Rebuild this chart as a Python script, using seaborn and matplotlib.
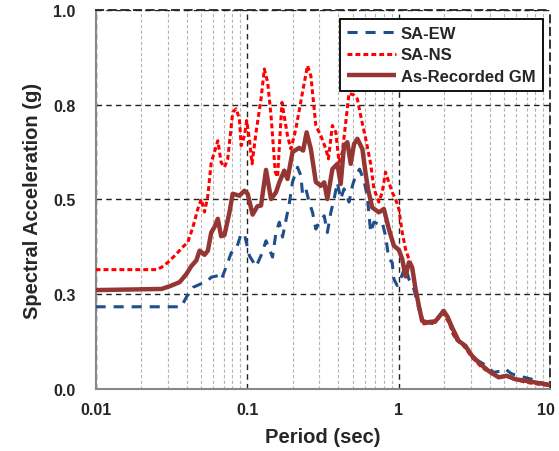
import numpy as np
import pandas as pd
import matplotlib
matplotlib.use("Agg")
import matplotlib.pyplot as plt
import matplotlib.transforms as mtransforms
import seaborn as sns

# ---- data ----
period_gm = [0.01, 0.0272, 0.0308, 0.0359, 0.0397, 0.0428, 0.0462, 0.0486, 0.0524, 0.0551,
             0.0580, 0.0609, 0.0641, 0.0674, 0.0709, 0.0765, 0.0804, 0.0890, 0.0960, 0.1009,
             0.1088, 0.1169, 0.1236, 0.1334, 0.1439, 0.1552, 0.1632, 0.1759, 0.1849, 0.1995,
             0.2208, 0.2344, 0.2472, 0.2636, 0.2844, 0.3069, 0.3228, 0.3388, 0.3657, 0.3946,
             0.4150, 0.4365, 0.4592, 0.4831, 0.5082, 0.5346, 0.5768, 0.6067, 0.6281, 0.6699,
             0.7413, 0.8000, 0.8630, 0.931, 1.004, 1.057, 1.112, 1.169, 1.228, 1.294,
             1.361, 1.429, 1.542, 1.751, 1.986, 2.109, 2.253, 2.494, 2.761, 3.050,
             3.462, 3.927, 4.571, 5.176, 5.888, 6.853, 8.38, 10.0]
sa_gm = [0.261, 0.264, 0.271, 0.282, 0.303, 0.324, 0.339, 0.365, 0.354, 0.365,
         0.413, 0.427, 0.449, 0.403, 0.406, 0.466, 0.515, 0.510, 0.523, 0.515,
         0.460, 0.482, 0.484, 0.578, 0.501, 0.519, 0.545, 0.576, 0.554, 0.625,
         0.636, 0.629, 0.677, 0.633, 0.546, 0.536, 0.545, 0.501, 0.580, 0.594,
         0.541, 0.642, 0.651, 0.594, 0.646, 0.660, 0.633, 0.567, 0.528, 0.479,
         0.466, 0.475, 0.422, 0.378, 0.367, 0.343, 0.297, 0.334, 0.322, 0.264,
         0.220, 0.180, 0.176, 0.179, 0.206, 0.190, 0.163, 0.127, 0.114, 0.088,
         0.066, 0.048, 0.031, 0.035, 0.026, 0.022, 0.016, 0.011]

period_ns = [0.01, 0.0252, 0.0272, 0.0300, 0.0341, 0.0377, 0.0406, 0.0439, 0.0473, 0.0498,
             0.0524, 0.0551, 0.0580, 0.0609, 0.0641, 0.0674, 0.0709, 0.0745, 0.0804, 0.0847,
             0.0890, 0.0914, 0.0960, 0.0994, 0.1035, 0.1079, 0.1146, 0.1236, 0.1300, 0.1367,
             0.1439, 0.1535, 0.1589, 0.1699, 0.1849, 0.1946, 0.2099, 0.2323, 0.2506, 0.2636,
             0.2844, 0.3069, 0.3311, 0.3443, 0.3657, 0.3855, 0.4046, 0.4256, 0.4710, 0.508,
             0.5346, 0.5623, 0.6067, 0.6546, 0.6877, 0.7413, 0.7798, 0.8204, 0.8630, 0.9078,
             0.955, 1.004, 1.057, 1.112, 1.169, 1.228, 1.294, 1.361, 1.466, 1.751,
             1.954, 2.143, 2.372, 2.692, 3.050, 3.548, 4.130, 4.688, 5.058, 5.888,
             6.853, 8.38, 10.0]
sa_ns = [0.315, 0.315, 0.321, 0.334, 0.356, 0.375, 0.387, 0.427, 0.475, 0.501,
         0.467, 0.510, 0.598, 0.625, 0.655, 0.598, 0.585, 0.607, 0.730, 0.739,
         0.712, 0.642, 0.668, 0.708, 0.660, 0.594, 0.677, 0.765, 0.844, 0.809,
         0.721, 0.572, 0.559, 0.756, 0.668, 0.633, 0.686, 0.783, 0.853, 0.826,
         0.695, 0.668, 0.633, 0.607, 0.695, 0.677, 0.598, 0.625, 0.780, 0.775,
         0.765, 0.721, 0.660, 0.594, 0.528, 0.493, 0.519, 0.572, 0.545, 0.519,
         0.501, 0.475, 0.413, 0.369, 0.343, 0.325, 0.264, 0.220, 0.172, 0.176,
         0.202, 0.176, 0.132, 0.114, 0.084, 0.057, 0.040, 0.031, 0.035, 0.026,
         0.018, 0.013, 0.009]

period_ew = [0.01, 0.0368, 0.0397, 0.0439, 0.0486, 0.0544, 0.0580, 0.0641, 0.0674, 0.0728,
             0.0785, 0.0847, 0.0914, 0.0960, 0.1035, 0.1146, 0.1236, 0.1334, 0.1403, 0.1472,
             0.1552, 0.1632, 0.1714, 0.1897, 0.1995, 0.2153, 0.2265, 0.2323, 0.2443, 0.2570,
             0.2704, 0.2844, 0.2992, 0.3228, 0.3388, 0.3573, 0.3750, 0.3946, 0.4150, 0.4365,
             0.4710, 0.4955, 0.5212, 0.5534, 0.5916, 0.6209, 0.6546, 0.6877, 0.7413, 0.7798,
             0.8204, 0.8630, 0.9078, 0.931, 0.9795, 1.030, 1.112, 1.169, 1.262, 1.361,
             1.466, 1.751, 1.986, 2.089, 2.253, 2.494, 2.761, 3.213, 3.828, 4.236,
             4.808, 5.058, 5.585, 6.180, 7.568, 9.27, 10.0]
sa_ew = [0.217, 0.217, 0.242, 0.268, 0.276, 0.284, 0.295, 0.299, 0.288, 0.322,
         0.359, 0.369, 0.409, 0.409, 0.352, 0.323, 0.352, 0.391, 0.369, 0.348,
         0.413, 0.440, 0.401, 0.488, 0.546, 0.585, 0.563, 0.515, 0.528, 0.493,
         0.466, 0.422, 0.440, 0.457, 0.413, 0.466, 0.501, 0.545, 0.501, 0.528,
         0.493, 0.536, 0.563, 0.580, 0.549, 0.510, 0.413, 0.440, 0.435, 0.440,
         0.404, 0.343, 0.334, 0.290, 0.273, 0.290, 0.325, 0.290, 0.264, 0.211,
         0.176, 0.172, 0.211, 0.193, 0.150, 0.123, 0.110, 0.079, 0.061, 0.044,
         0.048, 0.053, 0.040, 0.035, 0.026, 0.013, 0.009]

series_names = ["SA-EW", "SA-NS", "As-Recorded GM"]
y_ticks = [0.0, 0.25, 0.5, 0.75, 1.0]
y_tick_labels = ["0.0", "0.3", "0.5", "0.8", "1.0"]
x_ticks = [0.01, 0.1, 1, 10]
x_tick_labels = ["0.01", "0.1", "1", "10"]

# ---- style ----
sns.set_style("white")
plt.rcParams["font.family"] = ["Liberation Sans", "DejaVu Sans"]
plt.rcParams["font.weight"] = "bold"

fig = plt.figure(figsize=(5.59, 4.52), dpi=100)
ax = fig.add_axes([0.171, 0.137, 0.813, 0.839])

df_ew = pd.DataFrame({"period": period_ew, "sa": sa_ew})
df_ns = pd.DataFrame({"period": period_ns, "sa": sa_ns})
df_gm = pd.DataFrame({"period": period_gm, "sa": sa_gm})

sns.lineplot(data=df_ew, x="period", y="sa", ax=ax, color="#1F4E8C", lw=2.2,
             label=series_names[0], zorder=3)
sns.lineplot(data=df_ns, x="period", y="sa", ax=ax, color="#FF0000", lw=2.2,
             label=series_names[1], zorder=4)
sns.lineplot(data=df_gm, x="period", y="sa", ax=ax, color="#943634", lw=3.2,
             label=series_names[2], zorder=5)
lines = ax.get_lines()
lines[0].set_dashes((3.3, 2.6))
lines[1].set_dashes((1.6, 1.0))
for ln in lines:
    ln.set_solid_capstyle("butt")
    ln.set_dash_capstyle("butt")

ax.set_xscale("log")
ax.set_xlim(0.01, 10)
ax.set_ylim(0, 1.0)
ax.set_xticks(x_ticks)
ax.set_xticklabels(x_tick_labels)
ax.set_yticks(y_ticks)
ax.set_yticklabels(y_tick_labels)

ax.xaxis.set_minor_locator(matplotlib.ticker.LogLocator(base=10, subs=np.arange(2, 10)))
ax.xaxis.set_minor_formatter(matplotlib.ticker.NullFormatter())
ax.tick_params(axis="x", which="minor", length=0)
ax.tick_params(axis="both", which="major", direction="out", length=4.5, width=1.2,
               color="#888888", labelsize=11.5)
ax.tick_params(axis="x", which="major", pad=5)
ax.tick_params(axis="y", which="major", pad=10)
for lab in ax.get_xticklabels() + ax.get_yticklabels():
    lab.set_fontweight("bold")
# nudge the last x tick label ("10") so it stays inside the image
last = ax.get_xticklabels()[-1]
last.set_transform(last.get_transform() +
                   mtransforms.ScaledTranslation(-3 / 72, 0, fig.dpi_scale_trans))

ax.grid(which="major", axis="both", color="#222222", linestyle=(0, (4, 3)), lw=1.0, zorder=1)
ax.grid(which="minor", axis="x", color="#b5b5b5", linestyle=(0, (3, 2)), lw=0.8, zorder=1)
ax.set_axisbelow(True)

for s in ["left", "bottom"]:
    ax.spines[s].set_color("#888888")
    ax.spines[s].set_linewidth(1.5)
for s in ["top", "right"]:
    ax.spines[s].set_color("#222222")
    ax.spines[s].set_linewidth(1.3)
    ax.spines[s].set_linestyle((0, (4, 3)))

ax.set_xlabel("Period (sec)", fontsize=14.5, fontweight="bold", labelpad=7)
ax.set_ylabel("Spectral Acceleration (g)", fontsize=14.5, fontweight="bold", labelpad=8)

leg = ax.legend(loc="upper right", bbox_to_anchor=(0.984, 0.977), fontsize=12,
                frameon=True, fancybox=False, framealpha=1, edgecolor="black",
                handlelength=2.95, handletextpad=0.25, labelspacing=0.38,
                borderpad=0.45, borderaxespad=0)
leg.get_frame().set_linewidth(1.3)
for t in leg.get_texts():
    t.set_fontweight("bold")
leg.set_zorder(10)

fig.savefig("out.png", dpi=100)
